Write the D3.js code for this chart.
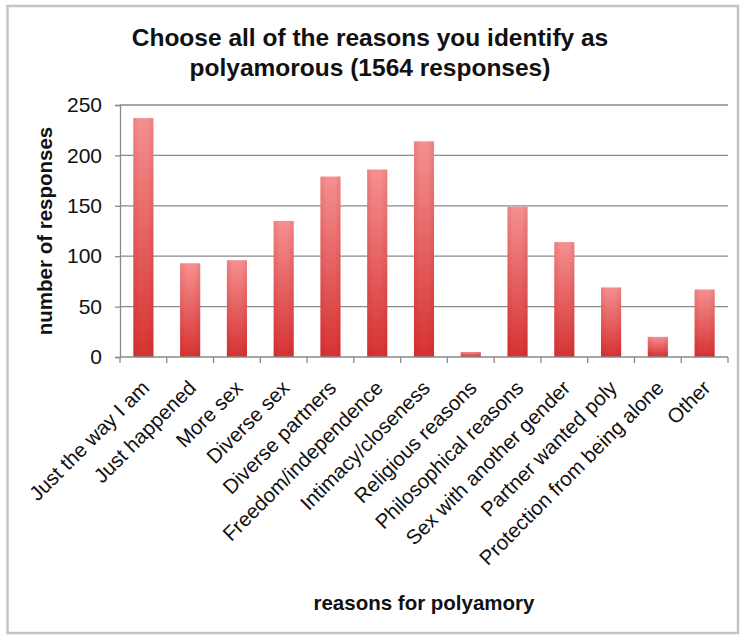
<!DOCTYPE html>
<html>
<head>
<meta charset="utf-8">
<script src="https://cdn.jsdelivr.net/npm/d3@7"></script>
<style>
  html, body { margin: 0; padding: 0; background: #fff; }
  svg { display: block; }
  text { font-family: "Liberation Sans", Arial, sans-serif; fill: #111; }
</style>
</head>
<body>
<svg id="chart" width="740" height="635"></svg>
<script>
// Survey answers: reasons for identifying as polyamorous
const categories = [
  "Just the way I am", "Just happened", "More sex", "Diverse sex",
  "Diverse partners", "Freedom/independence", "Intimacy/closeness",
  "Religious reasons", "Philosophical reasons", "Sex with another gender",
  "Partner wanted poly", "Protection from being alone", "Other"
];
const responses = [237, 93, 96, 135, 179, 186, 214, 5, 149, 114, 69, 20, 67];
const yTicks = [0, 50, 100, 150, 200, 250];

const titleLines = ["Choose all of the reasons you identify as", "polyamorous (1564 responses)"];
const yTitle = "number of responses";
const xTitle = "reasons for polyamory";

const svg = d3.select("#chart");

// outer frame
svg.append("rect")
  .attr("x", 7.5).attr("y", 6).attr("width", 730.5).attr("height", 627)
  .attr("fill", "#fff").attr("stroke", "#c4c4c4").attr("stroke-width", 2.5);

const plot = { left: 120, right: 728, top: 105, bottom: 357 };

const x = d3.scaleBand()
  .domain(categories)
  .range([plot.left, plot.right])
  .paddingInner(0.57)
  .paddingOuter(0.285);

const y = d3.scaleLinear()
  .domain([0, 250])
  .range([plot.bottom, plot.top]);

// bar fill: light at top, deeper red at the base
const defs = svg.append("defs");
const grad = defs.append("linearGradient")
  .attr("id", "barFill").attr("x1", 0).attr("y1", 0).attr("x2", 0).attr("y2", 1);
grad.append("stop").attr("offset", "0%").attr("stop-color", "#f59090");
grad.append("stop").attr("offset", "100%").attr("stop-color", "#d63232");

const side = defs.append("linearGradient")
  .attr("id", "barSide").attr("x1", 0).attr("y1", 0).attr("x2", 1).attr("y2", 0);
side.append("stop").attr("offset", "0%").attr("stop-color", "#a00").attr("stop-opacity", 0.12);
side.append("stop").attr("offset", "30%").attr("stop-color", "#a00").attr("stop-opacity", 0);
side.append("stop").attr("offset", "70%").attr("stop-color", "#a00").attr("stop-opacity", 0);
side.append("stop").attr("offset", "100%").attr("stop-color", "#a00").attr("stop-opacity", 0.12);

// horizontal gridlines
svg.append("g")
  .selectAll("line")
  .data(yTicks.filter(d => d > 0))
  .join("line")
  .attr("x1", plot.left).attr("x2", plot.right)
  .attr("y1", d => y(d)).attr("y2", d => y(d))
  .attr("stroke", "#8a8a8a").attr("stroke-width", 1.3);

// y axis
const yAxis = svg.append("g")
  .attr("transform", `translate(${plot.left},0)`)
  .call(d3.axisLeft(y).tickValues(yTicks).tickSize(5).tickPadding(13));
yAxis.select(".domain").attr("stroke", "#8a8a8a").attr("stroke-width", 1.3);
yAxis.selectAll(".tick line").attr("stroke", "#8a8a8a").attr("stroke-width", 1.3);
yAxis.selectAll(".tick text")
  .attr("font-size", 21)
  .attr("font-family", "Liberation Sans, Arial, sans-serif")
  .attr("fill", "#111");

// bars
const bars = svg.append("g");
bars.selectAll("rect.bar")
  .data(categories)
  .join("rect")
  .attr("class", "bar")
  .attr("x", d => x(d))
  .attr("width", x.bandwidth())
  .attr("y", (d, i) => y(responses[i]))
  .attr("height", (d, i) => y(0) - y(responses[i]))
  .attr("fill", "url(#barFill)");
bars.selectAll("rect.shade")
  .data(categories)
  .join("rect")
  .attr("class", "shade")
  .attr("x", d => x(d))
  .attr("width", x.bandwidth())
  .attr("y", (d, i) => y(responses[i]))
  .attr("height", (d, i) => y(0) - y(responses[i]))
  .attr("fill", "url(#barSide)");

// x axis with ticks at band boundaries
const step = x.step();
const boundaries = d3.range(categories.length + 1).map(i => plot.left + i * step);
const xAxis = svg.append("g");
xAxis.append("line")
  .attr("x1", plot.left).attr("x2", plot.right)
  .attr("y1", plot.bottom).attr("y2", plot.bottom)
  .attr("stroke", "#8a8a8a").attr("stroke-width", 1.3);
xAxis.selectAll("line.tick")
  .data(boundaries)
  .join("line")
  .attr("class", "tick")
  .attr("x1", d => d).attr("x2", d => d)
  .attr("y1", plot.bottom).attr("y2", plot.bottom + 6)
  .attr("stroke", "#8a8a8a").attr("stroke-width", 1.3);

// rotated category labels
xAxis.selectAll("text.cat")
  .data(categories)
  .join("text")
  .attr("class", "cat")
  .attr("transform", d => `translate(${x(d) + x.bandwidth() / 2 - 3},${plot.bottom + 22}) rotate(-45)`)
  .attr("text-anchor", "end")
  .attr("dy", "0.7em")
  .attr("font-size", 20.5)
  .text(d => d);

// titles
svg.append("text")
  .attr("text-anchor", "middle")
  .attr("font-size", 24.5)
  .attr("font-weight", "bold")
  .selectAll("tspan")
  .data(titleLines)
  .join("tspan")
  .attr("x", 370)
  .attr("y", (d, i) => 46 + i * 30)
  .text(d => d);

svg.append("text")
  .attr("transform", `translate(52,${(plot.top + plot.bottom) / 2}) rotate(-90)`)
  .attr("text-anchor", "middle")
  .attr("font-size", 20.5)
  .attr("font-weight", "bold")
  .text(yTitle);

svg.append("text")
  .attr("x", (plot.left + plot.right) / 2)
  .attr("y", 610)
  .attr("text-anchor", "middle")
  .attr("font-size", 20.5)
  .attr("font-weight", "bold")
  .text(xTitle);
</script>
</body>
</html>
